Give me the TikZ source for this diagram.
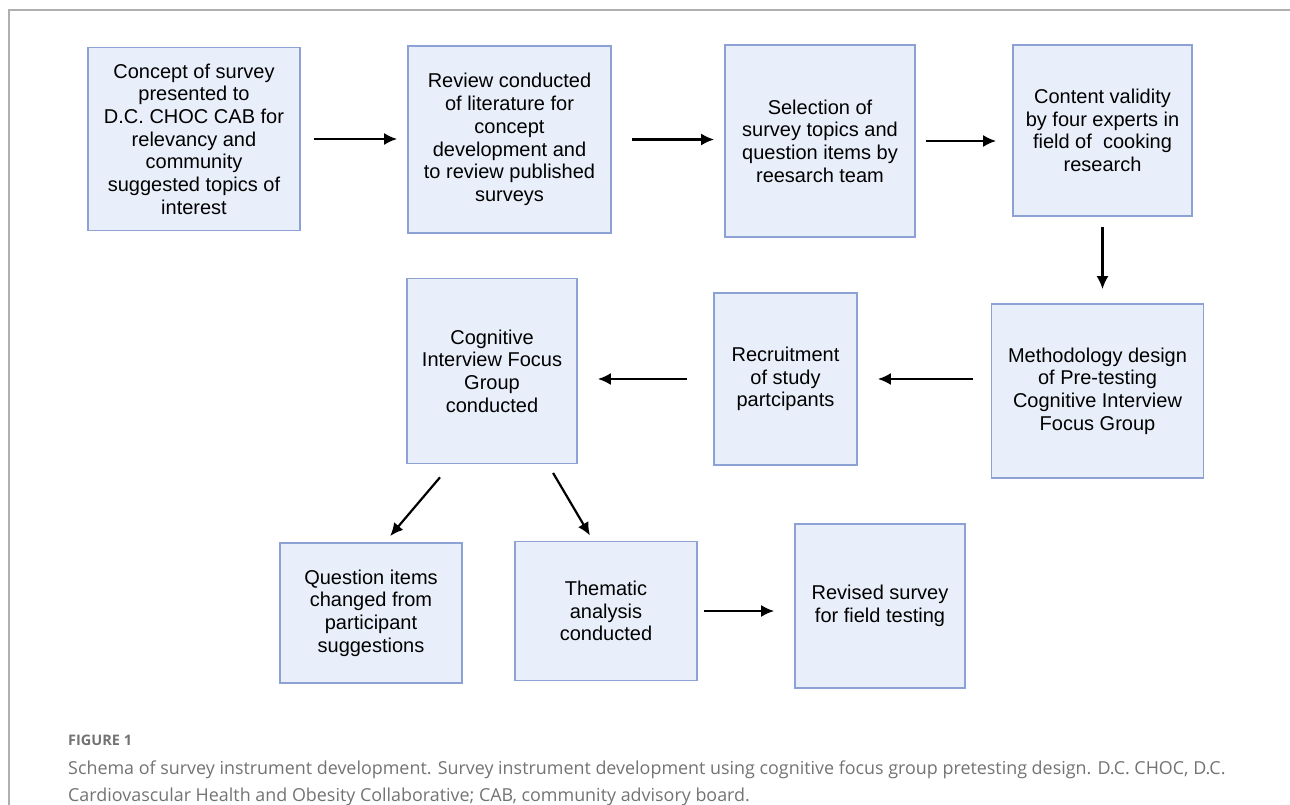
\documentclass[tikz,border=0pt]{standalone}
\usepackage{fontspec}
\newfontfamily\boxfont{Liberation Sans}
\newfontfamily\capfont{Open Sans}
\usepackage{tikz}
\usetikzlibrary{arrows.meta}

\definecolor{boxfill}{RGB}{233,239,250}
\definecolor{boxline}{RGB}{140,162,212}
\definecolor{framegray}{RGB}{175,175,175}
\definecolor{capgray}{RGB}{115,115,115}

\begin{document}
\begin{tikzpicture}[x=1pt,y=-1pt,>={Latex[length=13pt,width=12pt]},
		stepbox/.style={draw=boxline,fill=boxfill,line width=1.7pt,align=center,inner sep=0pt,
			font=\boxfont\fontsize{20}{22.7}\selectfont},
		flow/.style={->,line width=2.2pt}]
		
		\useasboundingbox (0,0) rectangle (1290,805);
		
		% Frame
		\draw[framegray,line width=1.3pt] (9,805) -- (9,10) -- (1290,10);
		
		% Top row
		\node[stepbox,minimum width=212,minimum height=183] (concept) at (194,139)
		{Concept of survey\\presented to\\D.C. CHOC CAB for\\relevancy and\\community\\suggested topics of\\interest};
		\node[stepbox,minimum width=203,minimum height=187] (review) at (509.5,139.5)
		{Review conducted\\of literature for\\concept\\development and\\to review published\\surveys};
		\node[stepbox,minimum width=190,minimum height=192] (selection) at (820,141)
		{Selection of\\survey topics and\\question items by\\reesarch team};
		\node[stepbox,minimum width=179,minimum height=171] (validity) at (1102.5,130.5)
		{Content validity\\by four experts in\\field of\ \ cooking\\research};
		
		% Middle row
		\node[stepbox,minimum width=212,minimum height=174] (method) at (1097.5,391)
		{Methodology design\\of Pre-testing\\Cognitive Interview\\Focus Group};
		\node[stepbox,minimum width=143,minimum height=172] (recruit) at (785.5,379)
		{Recruitment\\of study\\partcipants};
		\node[stepbox,minimum width=170,minimum height=185] (cognitive) at (492,371)
		{Cognitive\\Interview Focus\\Group\\conducted};
		
		% Bottom row
		\node[stepbox,minimum width=182,minimum height=140] (question) at (371,613)
		{Question items\\changed from\\participant\\suggestions};
		\node[stepbox,minimum width=182,minimum height=139] (thematic) at (606,611)
		{Thematic\\analysis\\conducted};
		\node[stepbox,minimum width=170,minimum height=164] (revised) at (880,606)
		{Revised survey\\for field testing};
		
		% Arrows
		\draw[flow,shorten <=13pt,shorten >=10pt] (concept.east) -- (concept.east -| review.west);
		\draw[flow,shorten <=20pt,shorten >=10pt] (review.east) -- (review.east -| selection.west);
		\draw[flow,shorten <=10pt,shorten >=16pt] (selection.east) -- (selection.east -| validity.west);
		\draw[flow,shorten <=10pt,shorten >=14pt] (validity.south) -- (validity.south |- method.north);
		\draw[flow,shorten <=18pt,shorten >=20pt] (method.west |- recruit.east) -- (recruit.east);
		\draw[flow,shorten <=26pt,shorten >=20pt] (recruit.west) -- (recruit.west -| cognitive.east);
		\draw[flow,shorten <=17pt,shorten >=8pt] ([xshift=-41pt]cognitive.south) -- ([xshift=14pt]question.north);
		\draw[flow,shorten <=10pt,shorten >=6pt] ([xshift=56pt]cognitive.south) -- ([xshift=-13pt]thematic.north);
		\draw[flow,shorten <=6pt,shorten >=20pt] (thematic.east) -- (thematic.east -| revised.west);
		
		% Caption
		\node[anchor=west,text=capgray,inner sep=0pt,font=\capfont\fontsize{14.5}{16}\selectfont\bfseries] (figlabel) at (68,740) {FIGURE 1};
		\node[anchor=north west,text=capgray,inner sep=0pt,align=left,
			font=\capfont\fontsize{17.9}{26.5}\selectfont] (caption) at (68,761)
		{Schema of survey instrument development. Survey instrument development using cognitive focus group pretesting design. D.C. CHOC, D.C.\\
			Cardiovascular Health and Obesity Collaborative; CAB, community advisory board.};
		
	\end{tikzpicture}
\end{document}
